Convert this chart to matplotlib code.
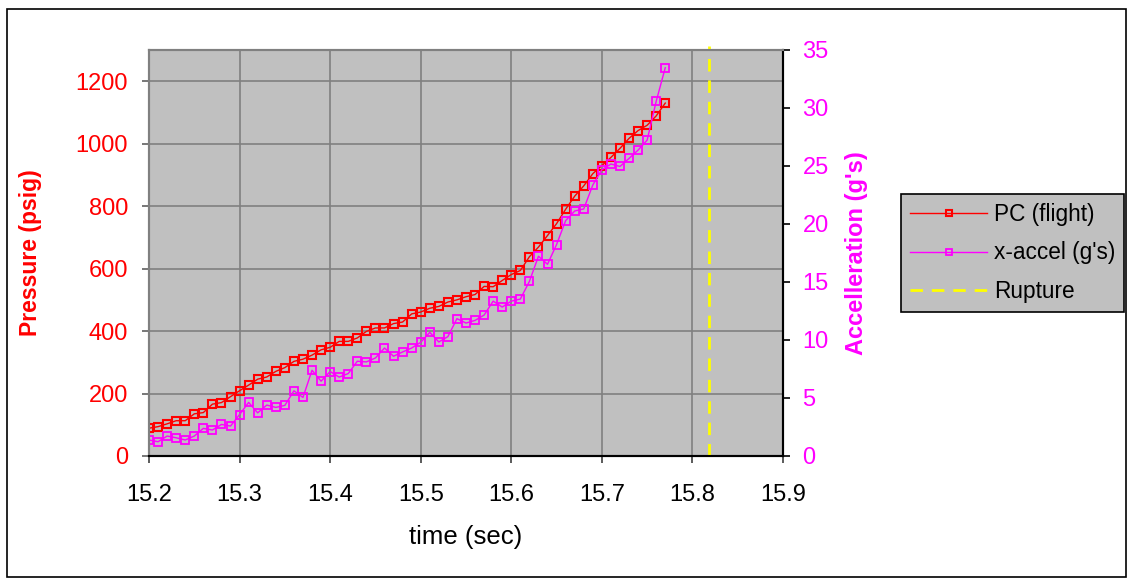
import numpy as np
import matplotlib
matplotlib.use('Agg')
import matplotlib.pyplot as plt
from matplotlib.patches import Rectangle

fontsize = 17
plt.rc('font', **{'family': 'sans-serif', 'sans-serif': ['Liberation Sans', 'DejaVu Sans']})

# time axis, 0.01 s steps
time = np.round(np.arange(15.20, 15.775, 0.01), 2)

# chamber pressure (psig)
pressure = [89, 94, 103, 113, 113, 135, 139, 166, 171, 190,
            209, 227, 246, 253, 271, 283, 303, 310, 323, 340,
            348, 367, 367, 378, 399, 410, 410, 424, 429, 455,
            461, 473, 479, 493, 500, 510, 517, 543, 542, 562,
            581, 594, 638, 669, 706, 744, 790, 832, 865, 904,
            930, 956, 985, 1017, 1042, 1059, 1089, 1130]

# x acceleration (g's)
accel = [1.38, 1.23, 1.72, 1.57, 1.38, 1.72, 2.38, 2.24, 2.72, 2.58,
         3.57, 4.62, 3.72, 4.39, 4.19, 4.36, 5.62, 5.05, 7.39, 6.45,
         7.28, 6.80, 7.11, 8.17, 8.11, 8.45, 9.31, 8.60, 8.97, 9.31,
         9.80, 10.66, 9.83, 10.29, 11.84, 11.46, 11.69, 12.15, 13.35, 12.84,
         13.35, 13.53, 15.05, 17.22, 16.53, 18.23, 20.29, 21.12, 21.30, 23.36,
         24.68, 25.17, 24.96, 25.65, 26.37, 27.23, 30.58, 33.47]

rupture_time = 15.818

xticks = [15.2, 15.3, 15.4, 15.5, 15.6, 15.7, 15.8, 15.9]
pticks = [0, 200, 400, 600, 800, 1000, 1200]
aticks = [0, 5, 10, 15, 20, 25, 30, 35]

fig = plt.figure(figsize=(11.28, 5.79), dpi=100)
ax = fig.add_axes([149/1128, 1-456/579, (783-149)/1128, (456-50)/579])
ax.set_facecolor('#c0c0c0')

# outer chart border
fig.patches.append(Rectangle((7/1128, 2/579), 1119/1128, 568/579, transform=fig.transFigure,
                             fill=False, edgecolor='black', linewidth=1.2))

l1, = ax.plot(time, pressure, color='red', lw=1, marker='s', ms=5.5,
              mfc='none', mec='red', mew=1.5, label='PC (flight)', zorder=3)
l3, = ax.plot([rupture_time, rupture_time], [0, 1312], color='#ffff00', lw=2,
              ls=(0, (4.5, 3.2)), clip_on=False, label='Rupture', zorder=4)

ax.set_xlim(15.2, 15.9)
ax.set_ylim(0, 1300)
ax.set_xticks(xticks)
ax.set_xticklabels(['%.1f' % t for t in xticks])
ax.set_yticks(pticks)
ax.grid(True, color='#808080', lw=1.2)
ax.set_axisbelow(True)

ax2 = ax.twinx()
l2, = ax2.plot(time, accel, color='#ff00ff', lw=1, marker='s', ms=5.5,
               mfc='none', mec='#ff00ff', mew=1.3, label="x-accel (g's)")
ax2.set_ylim(0, 35)
ax2.set_yticks(aticks)

for a in (ax, ax2):
    for s in ('left', 'top'):
        a.spines[s].set_color('#808080')
        a.spines[s].set_linewidth(1.5)
    for s in ('right', 'bottom'):
        a.spines[s].set_color('black')
        a.spines[s].set_linewidth(1.5)

ax.tick_params(axis='x', labelsize=fontsize, length=5, width=1.2, color='#404040', pad=15)
ax.tick_params(axis='y', labelsize=fontsize, length=5, width=1.2, color='#606060',
               labelcolor='red', pad=10)
ax2.tick_params(axis='y', labelsize=fontsize, length=5, width=1.2, color='black',
                labelcolor='#ff00ff', pad=9)

ax.set_xlabel('time (sec)', fontsize=18.5, labelpad=14)
ax.set_ylabel('Pressure (psig)', fontsize=16.5, fontweight='bold', color='red', labelpad=24)
ax2.set_ylabel("Accelleration (g's)", fontsize=17, fontweight='bold', color='#ff00ff',
               labelpad=12)

leg = fig.legend([l1, l2, l3], ['PC (flight)', "x-accel (g's)", 'Rupture'],
                 loc='upper left', bbox_to_anchor=(901/1128, 1-194/579),
                 bbox_transform=fig.transFigure, fontsize=16.3,
                 frameon=True, fancybox=False, framealpha=1, borderaxespad=0,
                 handlelength=3.4, handletextpad=0.3, labelspacing=0.68, borderpad=0.4,
                 markerscale=0.7)
leg.get_frame().set_facecolor('#c0c0c0')
leg.get_frame().set_edgecolor('black')
leg.get_frame().set_linewidth(1.2)

fig.savefig('out.png', dpi=100)
